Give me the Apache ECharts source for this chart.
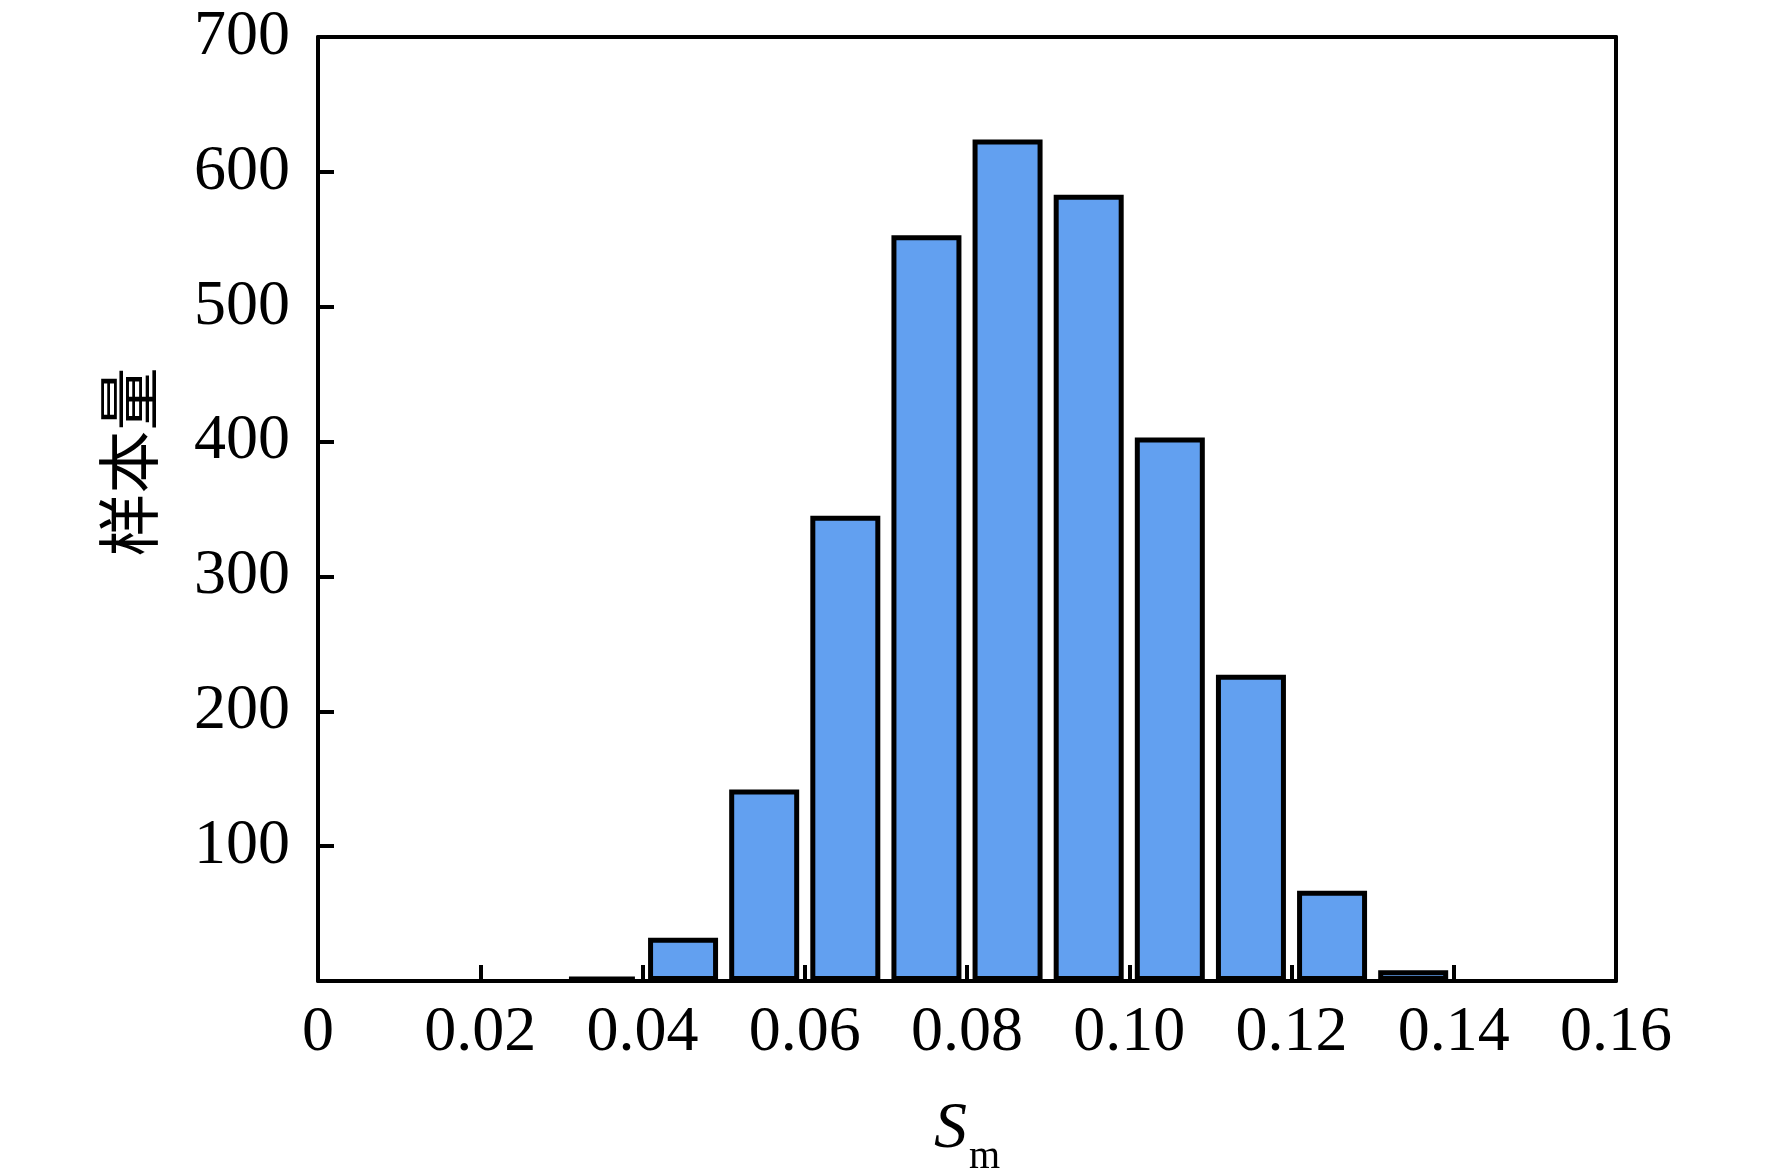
<!DOCTYPE html>
<html>
<head>
<meta charset="utf-8">
<script src="https://cdn.jsdelivr.net/npm/echarts@6/dist/echarts.min.js"></script>
<style>
html,body{margin:0;padding:0;background:#fff;}
#chart{width:1772px;height:1175px;}
</style>
</head>
<body>
<div id="chart"></div>
<script>
// Bin centres (S_m) and sample counts
var binCenters = [0.035, 0.045, 0.055, 0.065, 0.075, 0.085, 0.095, 0.105, 0.115, 0.125, 0.135];
var counts     = [3, 32, 142, 345, 553, 624, 583, 403, 227, 67, 8];
var xTickLabels = ['0', '0.02', '0.04', '0.06', '0.08', '0.10', '0.12', '0.14', '0.16'];
var yTickLabels = ['', '100', '200', '300', '400', '500', '600', '700'];
var xName = 'S';
var xSub = 'm';
var yName = '样本量';

var seriesData = binCenters.map(function (x, i) { return [x, counts[i]]; });

var chart = echarts.init(document.getElementById('chart'), null, {renderer: 'canvas'});
var serif = '"Liberation Serif", "Times New Roman", serif';
var option = {
  backgroundColor: '#ffffff',
  animation: false,
  grid: {left: 318, right: 156, top: 37, bottom: 194, containLabel: false, outerBoundsMode: 'none'},
  xAxis: [{
    type: 'value', min: 0, max: 0.16, interval: 0.02,
    position: 'bottom',
    axisLine: {show: true, onZero: false, lineStyle: {color: '#000', width: 4}},
    axisTick: {show: true, inside: true, length: 16, lineStyle: {color: '#000', width: 4}},
    axisLabel: {
      margin: 20, color: '#000', fontFamily: serif, fontSize: 64,
      formatter: function (v) { return xTickLabels[Math.round(v / 0.02)]; }
    },
    splitLine: {show: false},
    name: '{s|' + xName + '}{m|' + xSub + '}',
    nameLocation: 'middle', nameGap: 116,
    nameTextStyle: {
      color: '#000', fontFamily: serif,
      rich: {
        s: {fontFamily: serif, fontStyle: 'italic', fontSize: 66, color: '#000', lineHeight: 66, verticalAlign: 'bottom'},
        m: {fontFamily: serif, fontSize: 40, color: '#000', lineHeight: 40, verticalAlign: 'bottom', padding: [0, 0, -14, 2]}
      }
    }
  }, {
    type: 'value', min: 0, max: 0.16, interval: 0.02,
    position: 'top',
    axisLine: {show: true, onZero: false, lineStyle: {color: '#000', width: 4}},
    axisTick: {show: false}, axisLabel: {show: false}, splitLine: {show: false}
  }],
  yAxis: [{
    type: 'value', min: 0, max: 700, interval: 100,
    position: 'left',
    axisLine: {show: true, onZero: false, lineStyle: {color: '#000', width: 4}},
    axisTick: {show: true, inside: true, length: 16, lineStyle: {color: '#000', width: 4}},
    axisLabel: {
      margin: 28, color: '#000', fontFamily: serif, fontSize: 64,
      formatter: function (v) { return yTickLabels[Math.round(v / 100)]; }
    },
    splitLine: {show: false},
    name: yName,
    nameLocation: 'middle', nameGap: 158, nameRotate: 90,
    nameTextStyle: {color: '#000', fontFamily: 'Noto Sans CJK SC', fontSize: 63, padding: [0, 0, 0, 94]}
  }, {
    type: 'value', min: 0, max: 700, interval: 100,
    position: 'right',
    axisLine: {show: true, onZero: false, lineStyle: {color: '#000', width: 4}},
    axisTick: {show: false}, axisLabel: {show: false}, splitLine: {show: false}
  }],
  series: [{
    type: 'bar',
    xAxisIndex: 0, yAxisIndex: 0,
    data: seriesData,
    barWidth: 70,
    itemStyle: {color: '#62A0F0', borderColor: '#000', borderWidth: 5}
  }]
};
chart.setOption(option);
</script>
</body>
</html>
